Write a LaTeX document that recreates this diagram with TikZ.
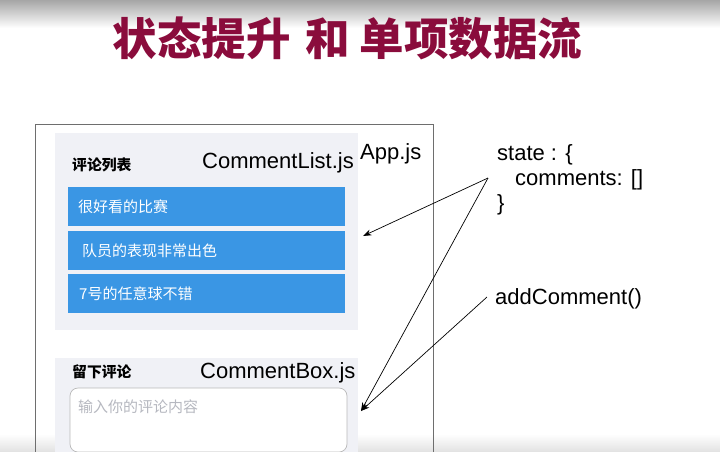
\documentclass[tikz,border=0pt]{standalone}
\usepackage{fontspec}
\setmainfont{Liberation Sans}
\newfontfamily\cjk{Noto Sans CJK SC}
\usetikzlibrary{arrows.meta,positioning}
\definecolor{titlered}{RGB}{138,12,60}
\definecolor{barblue}{RGB}{58,150,228}
\definecolor{panelgray}{RGB}{240,241,246}
\definecolor{hintgray}{RGB}{182,184,192}
\definecolor{framegray}{RGB}{110,110,110}

\begin{document}
\begin{tikzpicture}[x=1pt,y=-1pt,
    js/.style={font=\fontsize{22}{25}\selectfont,inner sep=0pt,anchor=base west},
    cnlabel/.style={font=\cjk\bfseries\fontsize{14.8}{16}\selectfont,inner sep=0pt,anchor=west},
    flow/.style={line width=0.7pt,-{Stealth[length=8.5pt,width=6pt]}}]
    \useasboundingbox (0,0) rectangle (720,451);
    \clip (0,0) rectangle (720,451);
    % video frame bands
    \shade[top color=gray!70,bottom color=white] (0,0) rectangle (720,28);
    \shade[top color=white,bottom color=gray!22] (0,434) rectangle (720,451);
    \node[font=\cjk\bfseries\fontsize{44.5}{48}\selectfont,titlered,inner sep=0pt]
      (title) at (347.5,38) {状态提升\hspace{15pt}和\hspace{10pt}单项数据流};

    % App.js frame
    \draw[framegray,line width=0.8pt] (35,460) -- (35,124) -- (433,124) -- (433,460);
    \node[js] (app) at (360,159) {App.js};

    % CommentList.js
    \fill[panelgray] (55,133) rectangle (358,330);
    \node[cnlabel] (listlbl) at (72,165) {评论列表};
    \node[js] (listjs) at (202,168) {CommentList.js};
    \foreach \y/\x/\txt in {
      187/78/很好看的比赛,
      231/82/队员的表现非常出色,
      274/79/7号的任意球不错}{
      \fill[barblue] (68,\y) rectangle (345,\y+39);
      \node[font=\cjk\fontsize{15}{16}\selectfont,white,anchor=west,inner sep=0pt]
        at (\x,\y+20) {\txt};
    }
    \coordinate (listin) at (363,236);

    % CommentBox.js
    \fill[panelgray] (55,358) rectangle (358,460);
    \node[cnlabel] (boxlbl) at (72,372) {留下评论};
    \node[js] (boxjs) at (200,378) {CommentBox.js};
    \draw[gray!55,fill=white!97!panelgray,rounded corners=8pt,line width=0.7pt]
      (70,388) rectangle (347,452);
    \node[font=\cjk\fontsize{15}{17}\selectfont,hintgray,anchor=west,inner sep=0pt]
      (hint) at (78,407) {输入你的评论内容};
    \coordinate (boxin) at (361,411);

    % state and handler
    \node[js] (state) at (497,160) {state : \{};
    \node[js] (comments) at (515,185) {comments: []};
    \node[js] (stateend) at (497,210) {\}};
    \node[js] (add) at (495,304) {addComment()};
    \coordinate (statetip) at (488,178);
    \coordinate (addtip) at (487,297);

    \draw[flow] (statetip) -- (listin);
    \draw[flow] (statetip) -- (boxin);
    \draw[flow] (addtip) -- (boxin);
  \end{tikzpicture}
\end{document}
